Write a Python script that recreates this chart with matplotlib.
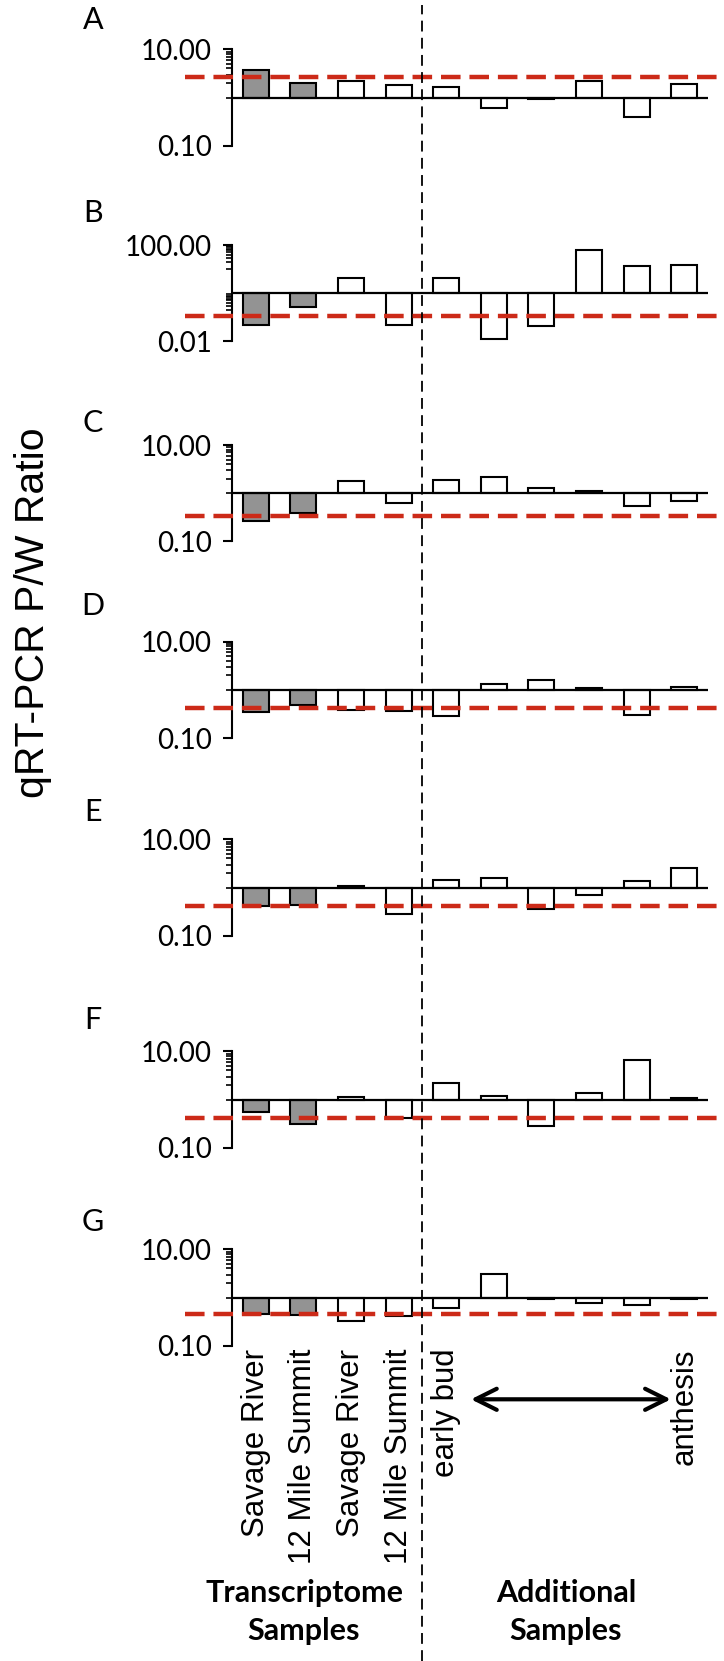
"""Seven stacked log-scale ratio panels (qRT-PCR P/W) with shared sample layout."""

import matplotlib
matplotlib.use("Agg")
import matplotlib.pyplot as plt
from matplotlib.lines import Line2D
from matplotlib.ticker import FixedLocator, FuncFormatter, NullFormatter
from matplotlib.transforms import blended_transform_factory

W, H = 724, 1661
LABEL_FONT = ["Lato", "DejaVu Sans"]
ARIAL_FONT = ["Liberation Sans", "DejaVu Sans"]

PANELS = ["A", "B", "C", "D", "E", "F", "G"]
SAMPLES = ["Savage River", "12 Mile Summit", "Savage River", "12 Mile Summit",
           "early bud", "", "", "", "", "anthesis"]
GRAY_BARS = 2  # first two bars in each panel are shaded

Y_LIMITS = {
    "A": (0.1, 10), "B": (0.01, 100), "C": (0.1, 10), "D": (0.1, 10),
    "E": (0.1, 10), "F": (0.1, 10), "G": (0.1, 10),
}
THRESHOLD = {"A": 2.7, "B": 0.11, "C": 0.33, "D": 0.42, "E": 0.42, "F": 0.42, "G": 0.46}

VALUES_A = [3.7, 2.0, 2.2, 1.8, 1.64, 0.62, 0.92, 2.15, 0.39, 1.95]
VALUES_B = [0.046, 0.26, 4.2, 0.048, 4.2, 0.012, 0.044, 64.0, 13.3, 14.7]
VALUES_C = [0.265, 0.38, 1.75, 0.64, 1.84, 2.12, 1.31, 1.12, 0.53, 0.68]
VALUES_D = [0.35, 0.48, 0.39, 0.37, 0.29, 1.33, 1.63, 1.12, 0.30, 1.17]
VALUES_E = [0.41, 0.44, 1.05, 0.28, 1.44, 1.54, 0.35, 0.71, 1.35, 2.57]
VALUES_F = [0.56, 0.31, 1.12, 0.42, 2.25, 1.21, 0.285, 1.37, 6.6, 1.1]
VALUES_G = [0.46, 0.44, 0.33, 0.41, 0.60, 3.06, 0.92, 0.78, 0.70, 0.92]
VALUES = dict(zip(PANELS, [VALUES_A, VALUES_B, VALUES_C, VALUES_D, VALUES_E, VALUES_F, VALUES_G]))

# layout, in pixels of the 724x1661 output
AX_LEFT, AX_RIGHT = 232, 708
AX_TOPS = [49.3, 245, 445, 641.7, 839.3, 1051.3, 1249.3]
AX_H = 96.4
LETTER_Y = [20, 213, 423, 606, 812, 1020, 1222]


def fx(px):
    return px / W


def fy(py):
    return 1 - py / H


def minor_ticks(lo, hi):
    # excel style: linear minor steps inside each 100x major interval
    if lo == 0.01:
        return [k / 10 for k in range(1, 10)] + [10 * k for k in range(1, 10)]
    return list(range(1, 10))


def draw_panel(ax, name):
    lo, hi = Y_LIMITS[name]
    vals = VALUES[name]
    x = list(range(len(vals)))
    heights = [v - 1 for v in vals]
    colors = ["#939393"] * GRAY_BARS + ["white"] * (len(vals) - GRAY_BARS)

    ax.set_yscale("log")
    ax.bar(x, heights, bottom=1, width=0.55, color=colors, edgecolor="black",
           linewidth=1.5, zorder=2)
    ax.axhline(1, color="black", lw=1.6, zorder=3)
    ax.set_xlim(-0.5, len(vals) - 0.5)
    ax.set_ylim(lo, hi)

    ax.plot([-0.099, 1.04], [THRESHOLD[name]] * 2, transform=ax.get_yaxis_transform(),
            color="#cc2a18", lw=3.2, ls=(0, (4.4, 2.0)), clip_on=False, zorder=4)

    for side in ("top", "right", "bottom"):
        ax.spines[side].set_visible(False)
    ax.spines["left"].set_linewidth(1.5)
    ax.set_xticks([])
    ax.yaxis.set_major_locator(FixedLocator([lo, hi]))
    ax.yaxis.set_major_formatter(FuncFormatter(lambda v, p: f"{v:.2f}"))
    ax.yaxis.set_minor_locator(FixedLocator(minor_ticks(lo, hi)))
    ax.yaxis.set_minor_formatter(NullFormatter())
    ax.tick_params(axis="y", which="major", length=6.5, width=1.5, pad=8, labelsize=20)
    ax.tick_params(axis="y", which="minor", length=4.0, width=1.2)
    for lab in ax.get_yticklabels():
        lab.set_family(LABEL_FONT)


def main():
    fig = plt.figure(figsize=(W / 100, H / 100), dpi=100)
    axes = []
    for name, top in zip(PANELS, AX_TOPS):
        ax = fig.add_axes([fx(AX_LEFT), fy(top + AX_H), fx(AX_RIGHT - AX_LEFT), AX_H / H])
        draw_panel(ax, name)
        axes.append(ax)

    for name, ly in zip(PANELS, LETTER_Y):
        fig.text(fx(93), fy(ly), name, ha="center", va="center", fontsize=22, family=LABEL_FONT)

    fig.text(fx(33), fy(613), "qRT-PCR P/W Ratio", rotation=90, ha="center", va="center",
             fontsize=29.5, family=ARIAL_FONT)

    ax_g = axes[-1]
    xt = ax_g.get_xaxis_transform()
    for i, lab in enumerate(SAMPLES):
        if lab:
            ax_g.text(i, -0.03, lab, transform=xt, rotation=90, ha="center", va="top",
                      fontsize=22.5, family=ARIAL_FONT)

    ax_g.annotate("", xy=(4.52, -0.556), xytext=(8.72, -0.556), xycoords=xt, textcoords=xt,
                  arrowprops=dict(arrowstyle="<->", lw=3, color="black", mutation_scale=38,
                                  shrinkA=0, shrinkB=0))

    fig.text(fx(304), fy(1612), "Transcriptome\nSamples", ha="center", va="center",
             fontsize=22, fontweight="bold", family=LABEL_FONT, linespacing=1.45)
    fig.text(fx(566), fy(1612), "Additional\nSamples", ha="center", va="center",
             fontsize=22, fontweight="bold", family=LABEL_FONT, linespacing=1.45)

    # group divider between transcriptome and additional samples
    tr = blended_transform_factory(axes[0].transData, fig.transFigure)
    fig.add_artist(Line2D([3.5, 3.5], [0, fy(5)], transform=tr, color="black", lw=1.3,
                          ls=(0, (6, 3.5))))

    fig.savefig("out.png", dpi=100, facecolor="white")
    plt.close(fig)


if __name__ == "__main__":
    main()
